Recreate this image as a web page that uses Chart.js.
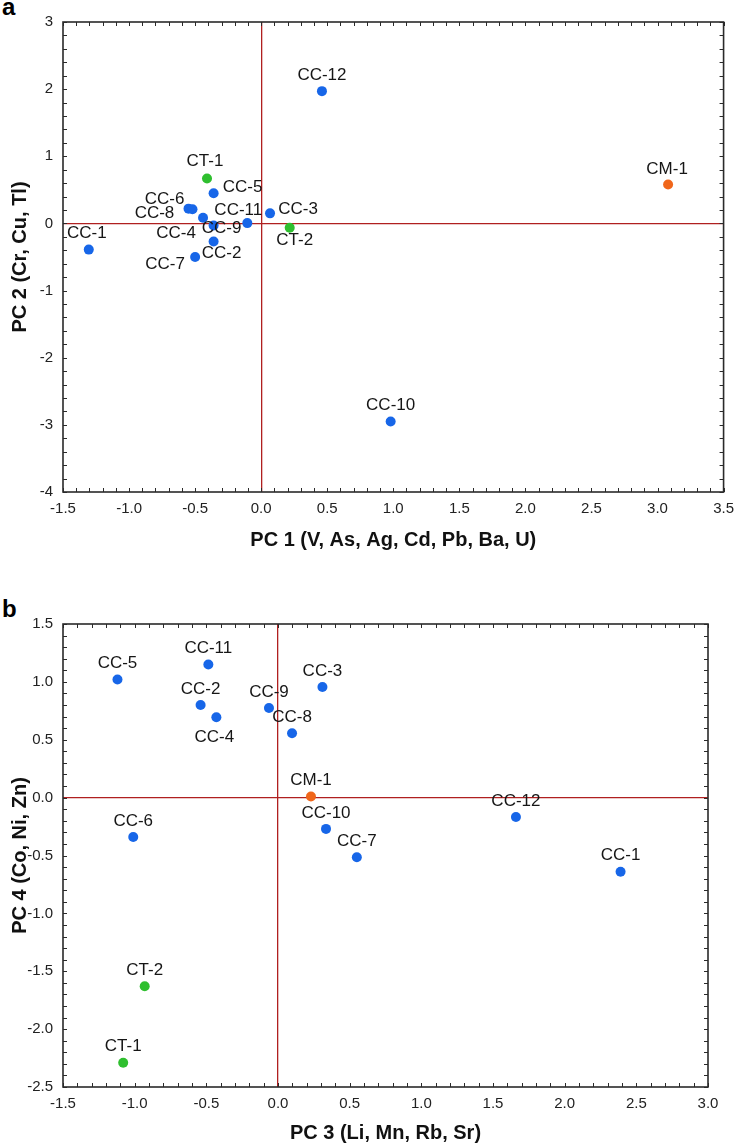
<!DOCTYPE html>
<html>
<head>
<meta charset="utf-8">
<script src="https://cdn.jsdelivr.net/npm/chart.js@4.4.0/dist/chart.umd.min.js"></script>
<style>
  body { margin: 0; background: #fff; width: 742px; height: 1147px; position: relative; overflow: hidden;
         font-family: 'Liberation Sans', Arial, sans-serif; }
  .panel { position: absolute; left: 0; width: 742px; }
  .tag { position: absolute; left: 2px; font-weight: bold; font-size: 24px; line-height: 24px; color: #000; }
</style>
</head>
<body>
<div class="tag" style="top:-5px">a</div>
<div class="panel" style="top:0;height:580px"><canvas id="chartA"></canvas></div>
<div class="tag" style="top:597px">b</div>
<div class="panel" style="top:580px;height:567px"><canvas id="chartB"></canvas></div>

<script>
// sample names and groups (same order in both panels)
const samples = ['CC-1','CC-2','CC-3','CC-4','CC-5','CC-6','CC-7','CC-8','CC-9','CC-10','CC-11','CC-12','CT-1','CT-2','CM-1'];
const groups  = ['CC','CC','CC','CC','CC','CC','CC','CC','CC','CC','CC','CC','CT','CT','CM'];

// panel a scores
const pc1 = [-1.305, -0.36, 0.067, -0.44, -0.36, -0.55, -0.50, -0.52, -0.36, 0.98, -0.105, 0.46, -0.41, 0.216, 3.08];
const pc2 = [-0.39, -0.27, 0.15, 0.085, 0.45, 0.22, -0.50, 0.21, -0.03, -2.95, 0.005, 1.97, 0.67, -0.065, 0.58];

// panel b scores
const pc3 = [2.39, -0.54, 0.31, -0.43, -1.12, -1.01, 0.55, 0.098, -0.063, 0.335, -0.486, 1.66, -1.08, -0.93, 0.23];
const pc4 = [-0.64, 0.80, 0.955, 0.695, 1.02, -0.34, -0.515, 0.556, 0.775, -0.27, 1.15, -0.167, -2.29, -1.63, 0.01];

// axis ticks
const ticksPC1 = [-1.5, -1.0, -0.5, 0.0, 0.5, 1.0, 1.5, 2.0, 2.5, 3.0, 3.5];
const ticksPC2 = [-4, -3, -2, -1, 0, 1, 2, 3];
const ticksPC3 = [-1.5, -1.0, -0.5, 0.0, 0.5, 1.0, 1.5, 2.0, 2.5, 3.0];
const ticksPC4 = [-2.5, -2.0, -1.5, -1.0, -0.5, 0.0, 0.5, 1.0, 1.5];

const colores = { CC: '#1766e8', CT: '#2fbf2f', CM: '#f0661a' };
const FONT = "'Liberation Sans', Arial, sans-serif";

// where each label sits relative to its dot (anything missing goes on top)
const offsetsA = {
  'CC-1': [-2, -16], 'CT-1': [-2, -17], 'CC-5': [29, -6], 'CC-6': [-24, -9], 'CC-8': [-38, 4],
  'CC-4': [-27, 16], 'CC-9': [8, 3], 'CC-11': [-9, -13], 'CC-3': [28, -4], 'CT-2': [5, 13],
  'CC-2': [8, 12], 'CC-7': [-30, 7], 'CC-12': [0, -16], 'CM-1': [-1, -15], 'CC-10': [0, -16]
};
const offsetsB = { 'CC-4': [-2, 20] };

const pointLabels = {
  id: 'pointLabels',
  afterDatasetsDraw(chart, args, opts) {
    const ctx = chart.ctx;
    ctx.save();
    ctx.font = '17px ' + FONT;
    ctx.fillStyle = '#161616';
    ctx.textAlign = 'center';
    ctx.textBaseline = 'middle';
    chart.data.datasets.forEach((ds, di) => {
      chart.getDatasetMeta(di).data.forEach((pt, i) => {
        const name = ds.data[i].name;
        const off = opts.offsets[name] || [0, -16];
        ctx.fillText(name, pt.x + off[0], pt.y + off[1]);
      });
    });
    ctx.restore();
  }
};

// box round the plot with small inward ticks on all four sides
const frame = {
  id: 'frame',
  afterDraw(chart, args, opts) {
    const { ctx, chartArea: a, scales: { x, y } } = chart;
    ctx.save();
    ctx.strokeStyle = '#2a2a2a';
    ctx.lineWidth = 1;
    ctx.beginPath();
    const nx = Math.round((x.max - x.min) / opts.xMinor);
    for (let k = 0; k <= nx; k++) {
      const px = Math.round(x.getPixelForValue(x.min + k * opts.xMinor)) + 0.5;
      ctx.moveTo(px, a.bottom); ctx.lineTo(px, a.bottom - 4);
      ctx.moveTo(px, a.top); ctx.lineTo(px, a.top + 4);
    }
    const ny = Math.round((y.max - y.min) / opts.yMinor);
    for (let k = 0; k <= ny; k++) {
      const py = Math.round(y.getPixelForValue(y.min + k * opts.yMinor)) + 0.5;
      ctx.moveTo(a.left, py); ctx.lineTo(a.left + 4, py);
      ctx.moveTo(a.right, py); ctx.lineTo(a.right - 4, py);
    }
    ctx.stroke();
    ctx.lineWidth = 1.6;
    ctx.strokeRect(a.left, a.top, a.right - a.left, a.bottom - a.top);
    ctx.restore();
  }
};

function buildDatasets(xs, ys) {
  return ['CC', 'CT', 'CM'].map(g => ({
    label: g,
    data: samples.map((n, i) => ({ x: xs[i], y: ys[i], name: n, g: groups[i] })).filter(p => p.g === g),
    backgroundColor: colores[g],
    borderWidth: 0,
    pointRadius: 5,
    pointHoverRadius: 5
  }));
}

function zeroGrid(ctx) {
  return Math.abs(ctx.tick.value) < 1e-9 ? '#b02020' : 'rgba(0,0,0,0)';
}

function makeChart(el, cfg) {
  return new Chart(document.getElementById(el), {
    type: 'scatter',
    data: { datasets: buildDatasets(cfg.xs, cfg.ys) },
    options: {
      responsive: true,
      maintainAspectRatio: false,
      animation: false,
      layout: { padding: cfg.padding },
      plugins: {
        legend: { display: false },
        tooltip: { enabled: false },
        pointLabels: { offsets: cfg.offsets },
        frame: { xMinor: 0.1, yMinor: cfg.yMinor }
      },
      scales: {
        x: {
          type: 'linear',
          min: cfg.xTicks[0], max: cfg.xTicks[cfg.xTicks.length - 1],
          afterBuildTicks: s => { s.ticks = cfg.xTicks.map(v => ({ value: v })); },
          afterFit: s => { s.height = cfg.xHeight; },
          grid: { color: zeroGrid, lineWidth: 1.3, drawTicks: false },
          border: { display: false },
          ticks: {
            padding: 8, color: '#222', font: { family: FONT, size: 15 },
            callback: v => v.toFixed(1)
          },
          title: {
            display: true, text: cfg.xTitle, color: '#111',
            font: { family: FONT, size: 20, weight: 'bold' },
            padding: { top: 0, bottom: cfg.xTitlePad }
          }
        },
        y: {
          type: 'linear',
          min: cfg.yTicks[0], max: cfg.yTicks[cfg.yTicks.length - 1],
          afterBuildTicks: s => { s.ticks = cfg.yTicks.map(v => ({ value: v })); },
          afterFit: s => { s.width = 63; },
          grid: { color: zeroGrid, lineWidth: 1.3, drawTicks: false },
          border: { display: false },
          ticks: {
            padding: 10, color: '#222', font: { family: FONT, size: 15 },
            callback: cfg.yFormat
          },
          title: {
            display: true, text: cfg.yTitle, color: '#111',
            font: { family: FONT, size: 20, weight: 'bold' },
            padding: { top: 8, bottom: 0 }
          }
        }
      }
    },
    plugins: [pointLabels, frame]
  });
}

makeChart('chartA', {
  xs: pc1, ys: pc2, xTicks: ticksPC1, yTicks: ticksPC2,
  xTitle: 'PC 1 (V, As, Ag, Cd, Pb, Ba, U)', yTitle: 'PC 2 (Cr, Cu, Tl)',
  yFormat: v => String(v), yMinor: 0.2,
  padding: { top: 22, right: 11, bottom: 0, left: 0 },
  xHeight: 88, xTitlePad: 28, offsets: offsetsA
});

makeChart('chartB', {
  xs: pc3, ys: pc4, xTicks: ticksPC3, yTicks: ticksPC4,
  xTitle: 'PC 3 (Li, Mn, Rb, Sr)', yTitle: 'PC 4 (Co, Ni, Zn)',
  yFormat: v => v.toFixed(1), yMinor: 0.1,
  padding: { top: 44, right: 34, bottom: 0, left: 0 },
  xHeight: 60, xTitlePad: 2, offsets: offsetsB
});
</script>
</body>
</html>
